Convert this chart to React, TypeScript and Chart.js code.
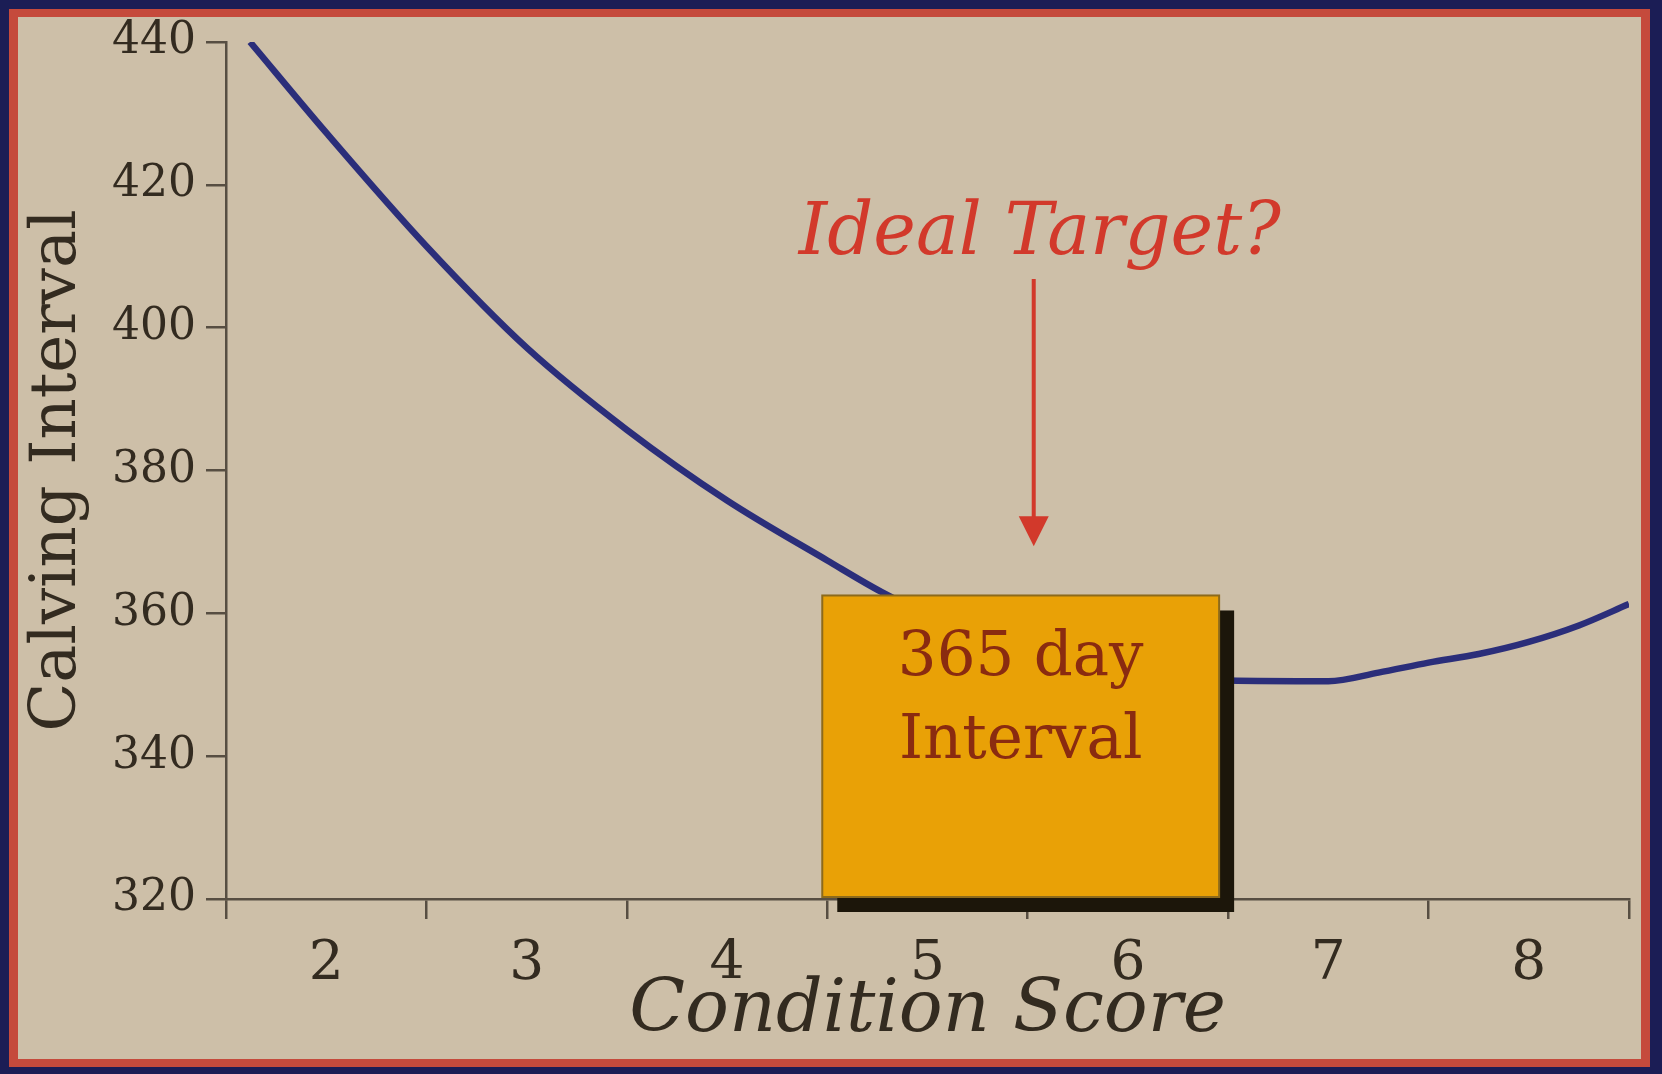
import React, { useEffect, useRef } from "react";
import { Chart, registerables } from "chart.js";

Chart.register(...registerables);

// ---- data ----
const conditionScores = [1.62, 2.0, 2.5, 3.0, 3.5, 4.0, 4.5, 4.77, 5.0, 5.5, 6.0, 6.5, 7.0, 7.25, 7.5, 7.75, 8.0, 8.25, 8.5];
const calvingIntervals = [440, 427.3, 411.4, 397.2, 385.7, 375.8, 367.4, 363.0, 359.9, 355.6, 352.5, 350.6, 350.5, 351.7, 353.1, 354.3, 356.0, 358.3, 361.3];
const xTickValues = [2, 3, 4, 5, 6, 7, 8];
const yTickValues = [320, 340, 360, 380, 400, 420, 440];
const xRange = [1.5, 8.5];
const yRange = [320, 440];

// annotation anchors (data units)
const boxXRange = [4.475, 6.455];
const boxYRange = [320, 362.5];
const boxLines = ["365 day", "Interval"];
const boxLineValues = [353.6, 342.0];
const arrowX = 5.53;
const arrowYRange = [406.8, 369.4];
const targetLabel = "Ideal Target?";
const targetLabelPos = [5.56, 410.3];

const SERIF = "'DejaVu Serif', 'Liberation Serif', serif";
const AXIS_COLOR = "#574e42";
const TEXT_COLOR = "#332b20";
const BG = "#cdbfa8";

const framePlugin = {
  id: "frame",
  beforeDraw(chart: any) {
    const { ctx, width, height } = chart;
    ctx.save();
    ctx.fillStyle = "#1b1d55";
    ctx.fillRect(0, 0, width, height);
    ctx.fillStyle = "#c54a3c";
    ctx.fillRect(9, 9, 1641, 1058);
    ctx.fillStyle = BG;
    ctx.fillRect(18, 17, 1623, 1042);
    ctx.restore();
  },
};

const annotationPlugin = {
  id: "annotations",
  afterDatasetsDraw(chart: any) {
    const { ctx } = chart;
    const xs = chart.scales.x;
    const ys = chart.scales.y;
    ctx.save();

    // Arrow
    const ax = xs.getPixelForValue(arrowX);
    const ay1 = ys.getPixelForValue(arrowYRange[0]);
    const ay2 = ys.getPixelForValue(arrowYRange[1]);
    ctx.strokeStyle = "#d2392b";
    ctx.fillStyle = "#d2392b";
    ctx.lineWidth = 4;
    ctx.beginPath();
    ctx.moveTo(ax, ay1);
    ctx.lineTo(ax, ay2 - 26);
    ctx.stroke();
    ctx.beginPath();
    ctx.moveTo(ax - 15, ay2 - 30);
    ctx.lineTo(ax + 15, ay2 - 30);
    ctx.lineTo(ax, ay2);
    ctx.closePath();
    ctx.fill();

    // "Ideal Target?"
    ctx.font = `italic 72px ${SERIF}`;
    ctx.textAlign = "center";
    ctx.textBaseline = "alphabetic";
    ctx.fillStyle = "#d2392b";
    ctx.fillText(targetLabel, xs.getPixelForValue(targetLabelPos[0]), ys.getPixelForValue(targetLabelPos[1]));

    // Box with shadow
    const bl = xs.getPixelForValue(boxXRange[0]);
    const br = xs.getPixelForValue(boxXRange[1]);
    const bb = ys.getPixelForValue(boxYRange[0]) - 2;
    const bt = ys.getPixelForValue(boxYRange[1]);
    ctx.fillStyle = "#1c160a";
    ctx.fillRect(bl + 15, bt + 15, br - bl, bb - bt);
    ctx.fillStyle = "#e9a106";
    ctx.fillRect(bl, bt, br - bl, bb - bt);
    ctx.strokeStyle = "#8c6a1c";
    ctx.lineWidth = 2;
    ctx.strokeRect(bl, bt, br - bl, bb - bt);

    ctx.fillStyle = "#8a2b10";
    ctx.font = `61px ${SERIF}`;
    ctx.textBaseline = "middle";
    const cx = (bl + br) / 2;
    boxLines.forEach((t, i) => {
      ctx.fillText(t, cx, ys.getPixelForValue(boxLineValues[i]));
    });
    ctx.restore();
  },
};

export default function App() {
  const ref = useRef<HTMLCanvasElement | null>(null);
  useEffect(() => {
    document.body.style.margin = "0";
    const canvas = ref.current;
    if (!canvas) return;
    const chart = new Chart(canvas, {
      type: "line",
      data: {
        datasets: [
          {
            label: "Calving Interval",
            data: conditionScores.map((x, i) => ({ x, y: calvingIntervals[i] })),
            borderColor: "#2b2e7a",
            borderWidth: 6.5,
            pointRadius: 0,
            cubicInterpolationMode: "monotone",
            fill: false,
          },
        ],
      },
      options: {
        responsive: false,
        animation: false,
        layout: { padding: { top: 42, right: 33, left: 0, bottom: 0 } },
        plugins: {
          legend: { display: false },
          tooltip: { enabled: false },
          title: { display: false },
        },
        scales: {
          x: {
            type: "linear",
            position: "bottom",
            min: xRange[0],
            max: xRange[1],
            afterBuildTicks: (s: any) => {
              s.ticks = xTickValues.map((v) => ({ value: v }));
            },
            afterFit: (s: any) => {
              s.height = 175;
            },
            grid: {
              display: true,
              drawOnChartArea: false,
              drawTicks: true,
              tickLength: 20,
              offset: true,
              color: AXIS_COLOR,
              lineWidth: 2.5,
            },
            border: { display: true, color: AXIS_COLOR, width: 2.5 },
            ticks: {
              padding: 18,
              color: TEXT_COLOR,
              font: { family: SERIF, size: 55, lineHeight: 1 },
              callback: (v: any) => String(v),
            },
            title: {
              display: true,
              text: "Condition Score",
              color: TEXT_COLOR,
              font: { family: SERIF, size: 73, style: "italic", lineHeight: 1 },
              padding: { top: 0, bottom: 25 },
            },
          },
          y: {
            type: "linear",
            min: yRange[0],
            max: yRange[1],
            afterBuildTicks: (s: any) => {
              s.ticks = yTickValues.map((v) => ({ value: v }));
            },
            afterFit: (s: any) => {
              s.width = 226;
            },
            grid: {
              display: true,
              drawOnChartArea: false,
              drawTicks: true,
              tickLength: 20,
              color: AXIS_COLOR,
              lineWidth: 2.5,
            },
            border: { display: true, color: AXIS_COLOR, width: 2.5 },
            ticks: {
              padding: 10,
              color: TEXT_COLOR,
              font: { family: SERIF, size: 44, lineHeight: 1 },
              callback: (v: any) => String(v),
            },
            title: {
              display: true,
              text: "Calving Interval",
              color: TEXT_COLOR,
              font: { family: SERIF, size: 64, lineHeight: 1 },
              padding: { top: 26, bottom: 0 },
            },
          },
        },
      },
      plugins: [framePlugin, annotationPlugin],
    });
    return () => chart.destroy();
  }, []);
  return (
    <div style={{ width: 1662, height: 1074 }}>
      <canvas ref={ref} width={1662} height={1074} style={{ display: "block" }} />
    </div>
  );
}
